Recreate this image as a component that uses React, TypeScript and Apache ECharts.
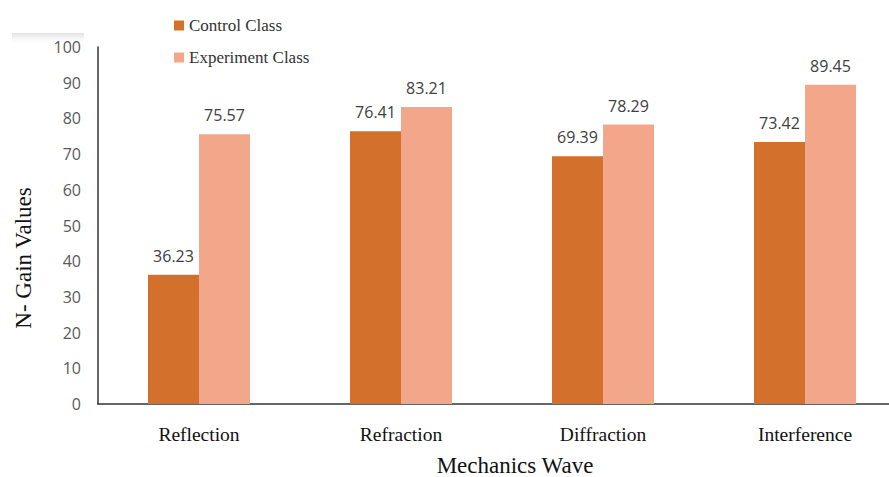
import React, { useEffect, useRef } from "react";
import * as echarts from "echarts";

const categories = ["Reflection", "Refraction", "Diffraction", "Interference"];
const controlValues = [36.23, 76.41, 69.39, 73.42];
const experimentValues = [75.57, 83.21, 78.29, 89.45];
const seriesNames = ["Control Class", "Experiment Class"];

export default function App() {
  const ref = useRef<HTMLDivElement>(null);
  useEffect(() => {
    document.body.style.overflow = "hidden";
    if (!ref.current) return;
    const chart = echarts.init(ref.current, null, { renderer: "svg" });
    const labelStyle = {
      show: true,
      position: "top",
      distance: 11,
      color: "#404040",
      fontSize: 16,
      fontFamily: "Open Sans",
      formatter: (p: any) => p.value.toFixed(2),
    };
    chart.setOption({
      animation: false,
      backgroundColor: "#ffffff",
      legend: {
        orient: "vertical",
        left: 169,
        top: 12,
        itemWidth: 10,
        itemHeight: 10,
        itemGap: 15,
        icon: "rect",
        textStyle: { fontFamily: "Liberation Serif", fontSize: 17, color: "#333" },
        data: seriesNames,
      },
      grid: { left: 98, top: 47, width: 808, height: 357, containLabel: false },
      xAxis: {
        type: "category",
        data: categories,
        axisLine: { lineStyle: { color: "#333", width: 1.5 } },
        axisTick: { show: false },
        axisLabel: {
          margin: 20,
          fontFamily: "Liberation Serif",
          fontSize: 19.5,
          color: "#111",
        },
      },
      yAxis: {
        type: "value",
        min: 0,
        max: 100,
        interval: 10,
        axisLine: { show: true, lineStyle: { color: "#333", width: 1.5 } },
        axisTick: { show: false },
        splitLine: { show: false },
        axisLabel: { margin: 17, fontFamily: "Open Sans", fontSize: 16, color: "#595959" },
      },
      graphic: [
        {
          type: "rect",
          shape: { x: 12, y: 33, width: 72, height: 12 },
          style: {
            fill: new echarts.graphic.LinearGradient(0, 0, 0, 1, [
              { offset: 0, color: "rgba(200,200,200,0.55)" },
              { offset: 1, color: "rgba(255,255,255,0)" },
            ]),
          },
          silent: true,
        },
        {
          type: "text",
          x: 515,
          y: 465,
          style: {
            text: "Mechanics Wave",
            fontFamily: "Liberation Serif",
            fontSize: 23,
            fill: "#111",
            align: "center",
            verticalAlign: "middle",
          },
        },
        {
          type: "text",
          x: 23,
          y: 258,
          rotation: Math.PI / 2,
          style: {
            text: "N- Gain Values",
            fontFamily: "Liberation Serif",
            fontSize: 23,
            fill: "#111",
            align: "center",
            verticalAlign: "middle",
          },
        },
      ],
      series: [
        {
          name: seriesNames[0],
          type: "bar",
          data: controlValues,
          barGap: "0%",
          barCategoryGap: "49.5%",
          itemStyle: { color: "#D2702C" },
          label: labelStyle,
        },
        {
          name: seriesNames[1],
          type: "bar",
          data: experimentValues,
          barGap: "0%",
          barCategoryGap: "49.5%",
          itemStyle: { color: "#F2A78A" },
          label: labelStyle,
        },
      ],
    });
    return () => chart.dispose();
  }, []);
  return (
    <div
      ref={ref}
      style={{ position: "fixed", left: 0, top: 0, width: 908, height: 477 }}
    />
  );
}
